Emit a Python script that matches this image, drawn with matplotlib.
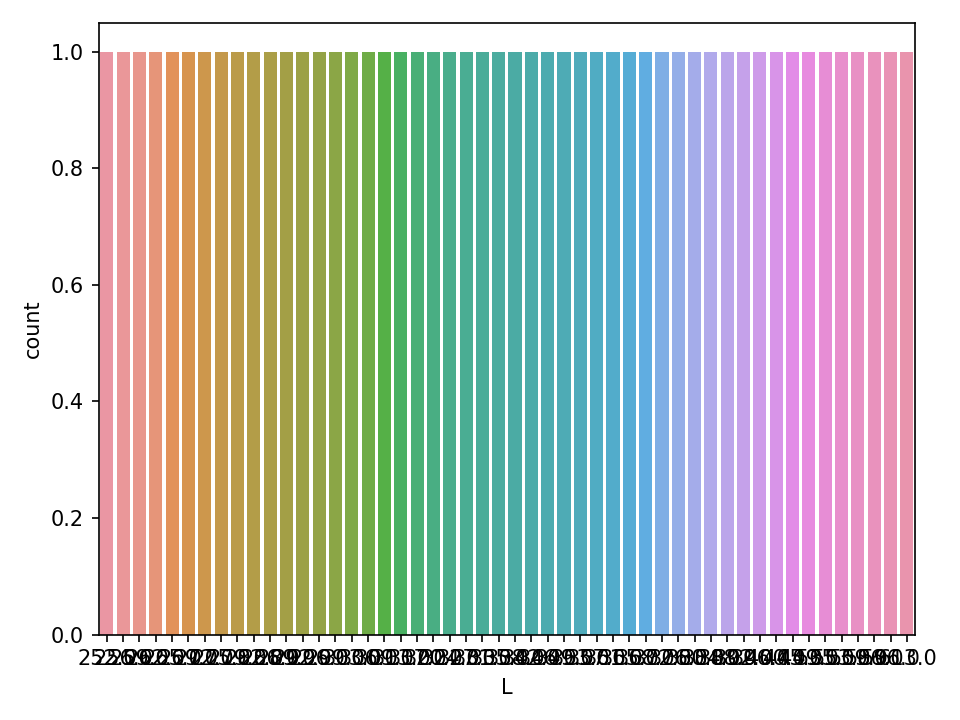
import matplotlib
matplotlib.use("Agg")
import matplotlib.pyplot as plt
import seaborn as sns
import pandas as pd

L_values = [252.0, 256.0, 259.0, 262.0, 265.0, 269.0, 272.0, 275.0, 279.0, 282.0,
            286.0, 289.0, 292.0, 296.0, 299.0, 303.0, 306.0, 309.0, 313.0, 317.0,
            320.0, 324.0, 327.0, 331.0, 335.0, 338.0, 342.0, 346.0, 349.0, 353.0,
            357.0, 361.0, 365.0, 368.0, 372.0, 376.0, 380.0, 384.0, 388.0, 392.0,
            396.0, 400.0, 445.0, 449.0, 535.0, 553.0, 559.0, 586.0, 596.0, 613.0]

df = pd.DataFrame({"L": L_values})
counts = df["L"].value_counts().sort_index()
categories = [str(v) for v in counts.index]

# old seaborn countplot: husl palette (l=.7), desaturated to 0.75
colors = [sns.desaturate(c, 0.75) for c in sns.husl_palette(len(categories), l=.7)]

fig, ax = plt.subplots(figsize=(6.4, 4.8), dpi=150)
pos = list(range(len(categories)))
ax.bar(pos, counts.values, width=0.8, color=colors)
ax.set_xticks(pos)
ax.set_xticklabels(categories)
ax.set_xlim(-0.5, len(categories) - 0.5)
ax.set_xlabel("L")
ax.set_ylabel("count")

fig.tight_layout()
fig.savefig("out.png", dpi=150)
